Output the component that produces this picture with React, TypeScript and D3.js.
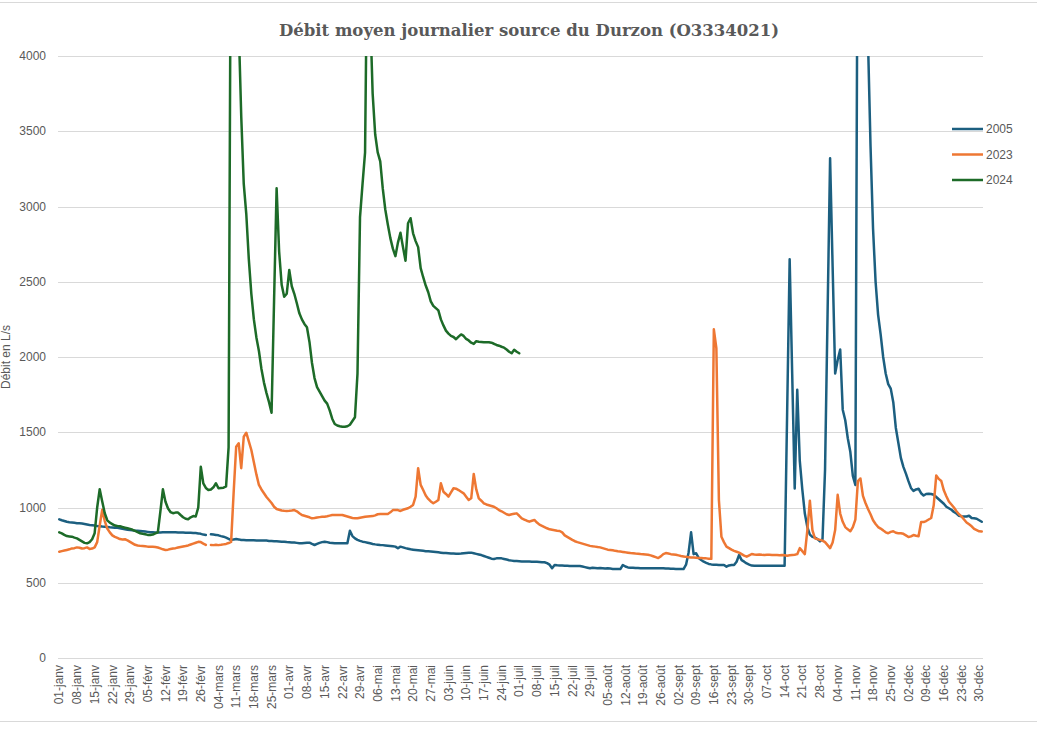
import React from 'react';
import * as d3 from 'd3';

// ---------- categories & ticks ----------
const MONTHS = ['janv', 'févr', 'mars', 'avr', 'mai', 'juin', 'juil', 'août', 'sept', 'oct', 'nov', 'déc'];
const MONTH_DAYS = [31, 29, 31, 30, 31, 30, 31, 31, 30, 31, 30, 31];
const CATEGORIES: string[] = MONTHS.flatMap((m, i) =>
  d3.range(1, MONTH_DAYS[i] + 1).map((d) => `${String(d).padStart(2, '0')}-${m}`)
);
const TICK_STEP = 7;
const Y_TICKS = [0, 500, 1000, 1500, 2000, 2500, 3000, 3500, 4000];

const TITLE = 'Débit moyen journalier source du Durzon (O3334021)';
const Y_TITLE = 'Débit en L/s';
const SERIES_NAMES = ['2005', '2023', '2024'];
const SERIES_COLORS = ['#1c5f80', '#ee7733', '#1d6b28'];

// ---------- data (L/s), one value per day, null = missing ----------
const Q2005: (number | null)[] = [
  921, 915, 910, 905, 902, 900, 898, 896, 895, 893,
  890, 887, 884, 882, 880, 877, 875, 873, 872, 870,
  868, 867, 866, 865, 862, 858, 855, 852, 850, 848,
  846, 845, 844, 842, 840, 838, 836, 835, 834, 834,
  834, 835, 835, 835, 836, 835, 835, 834, 834, 834,
  833, 833, 832, 831, 830, 828, 825, 820, 817, null,
  822, 820, 818, 815, 810, 806, 800, 792, 784, 788,
  791, 788, 784, 784, 783, 783, 782, 782, 781, 781,
  780, 780, 780, 778, 777, 776, 775, 774, 773, 772,
  770, 769, 768, 767, 765, 763, 762, 764, 766, 766,
  758, 751, 758, 765, 770, 773, 770, 766, 764, 762,
  762, 762, 762, 762, 762, 846, 810, 795, 785, 778,
  773, 770, 766, 762, 758, 755, 753, 751, 750, 748,
  746, 744, 742, 740, 729, 740, 735, 730, 726, 722,
  720, 718, 716, 714, 712, 710, 709, 708, 706, 704,
  702, 700, 698, 697, 696, 695, 694, 693, 693, 694,
  696, 698, 700, 700, 696, 692, 688, 684, 678, 672,
  666, 660, 658, 662, 663, 662, 658, 654, 650, 647,
  644, 644, 643, 642, 642, 641, 641, 640, 640, 639, 638,
  637, 636, 630, 620, 596, 618, 616, 615, 614, 613,
  613, 612, 612, 611, 611, 611, 608, 604, 600, 596,
  600, 598, 596, 598, 596, 594, 596, 594, 592, 592,
  591, 591, 618, 608, 602, 600, 600, 598, 598, 597,
  597, 596, 596, 597, 596, 596, 596, 596, 596, 594,
  594, 593, 593, 592, 592, 591, 591, 620, 700, 835,
  690, 696, 665, 651, 640, 632, 625, 622, 620, 619,
  618, 618, 618, 607, 615, 618, 618, 640, 684, 650,
  640, 628, 620, 614, 613, 613, 613, 613, 613, 613,
  613, 613, 613, 613, 613, 613, 613, 1630, 2650, 1890,
  1126, 1782, 1312, 1120, 960, 870, 820, 805, 800, 790,
  775, 790, 1250, 2285, 3320, 2600, 1890, 1980, 2050, 1650,
  1580, 1460, 1370, 1210, 1150, 5500, 7000, 6000, 4800, 4100,
  3400, 2850, 2500, 2280, 2150, 2000, 1890, 1820, 1790, 1700,
  1530, 1430, 1330, 1270, 1225, 1175, 1130, 1110, 1120, 1125,
  1095, 1080, 1090, 1092, 1090, 1085, 1070, 1055, 1040, 1025,
  1005, 995, 985, 970, 960, 945, 942, 940, 940, 945,
  930, 928, 925, 915, 905,
];

const Q2023: (number | null)[] = [
  706, 710, 714, 718, 722, 728, 730, 735, 733, 728,
  730, 735, 725, 727, 735, 770, 880, 985, 910, 860,
  835, 815, 805, 798, 790, 788, 789, 782, 772, 762,
  752, 748, 745, 744, 742, 740, 740, 739, 738, 734,
  728, 722, 718, 720, 724, 728, 730, 734, 738, 741,
  744, 748, 754, 760, 766, 772, 770, 760, 751, null,
  751, 750, 752, 750, 752, 755, 758, 764, 772, 1100,
  1404, 1427, 1261, 1470, 1497, 1440, 1382, 1300, 1220, 1150,
  1120, 1095, 1070, 1050, 1030, 1005, 990, 985, 980, 978,
  977, 978, 980, 983, 975, 962, 950, 945, 940, 935,
  928, 930, 933, 936, 938, 939, 942, 946, 950, 950,
  950, 950, 950, 945, 940, 935, 930, 928, 928, 932,
  935, 938, 940, 942, 943, 948, 955, 956, 956, 957,
  957, 968, 983, 983, 983, 977, 985, 990, 995, 1005,
  1017, 1072, 1261, 1150, 1116, 1080, 1057, 1040, 1028, 1038,
  1050, 1161, 1105, 1090, 1072, 1100, 1128, 1125, 1116, 1105,
  1094, 1072, 1050, 1061, 1223, 1120, 1061, 1045, 1028, 1020,
  1015, 1010, 1005, 995, 983, 975, 965, 955, 950, 955,
  958, 961, 945, 928, 920, 912, 906, 912, 917, 900, 886,
  878, 870, 862, 855, 852, 849, 846, 844, 835, 815,
  805, 795, 785, 776, 770, 765, 760, 755, 750, 745,
  742, 740, 737, 735, 730, 725, 720, 718, 716, 712,
  709, 707, 705, 702, 700, 697, 696, 694, 693, 691,
  690, 688, 686, 682, 676, 670, 664, 675, 690, 697,
  694, 690, 688, 686, 682, 678, 675, 672, 670, 668,
  667, 666, 665, 664, 663, 662, 660, 659, 2184, 2058,
  1050, 806, 770, 740, 730, 720, 712, 706, 700, 690,
  680, 673, 682, 691, 688, 686, 688, 686, 685, 686,
  686, 685, 684, 684, 683, 684, 682, 680, 682, 684,
  686, 690, 730, 710, 690, 850, 1045, 850, 795, 790,
  785, 780, 770, 750, 730, 767, 850, 1084, 960, 905,
  870, 855, 842, 870, 920, 1176, 1193, 1077, 1030, 990,
  955, 915, 890, 870, 860, 848, 835, 829, 838, 842,
  832, 829, 829, 825, 815, 804, 808, 817, 812, 809,
  903, 903, 910, 920, 930, 1015, 1213, 1190, 1176, 1114,
  1075, 1040, 1020, 1000, 975, 955, 941, 920, 900, 888,
  875, 858, 850, 842, 840,
];

const Q2024: (number | null)[] = [
  835, 828, 818, 810, 808, 806, 800, 795, 785, 775,
  765, 762, 770, 789, 829, 1000, 1121, 1040, 962, 915,
  899, 890, 880, 877, 875, 870, 866, 862, 858, 852,
  844, 836, 829, 825, 822, 818, 817, 820, 828, 835,
  972, 1121, 1040, 995, 970, 962, 966, 966, 950, 935,
  925, 922, 935, 943, 940, 1000, 1271, 1160, 1130, 1116,
  1120, 1134, 1161, 1128, 1130, 1132, 1140, 1400, 5500, 7000,
  6000, 4200, 3600, 3150, 2950, 2650, 2420, 2250, 2130, 2040,
  1920, 1830, 1760, 1700, 1630, 2380, 3121, 2700, 2480, 2400,
  2420, 2578, 2470, 2420, 2357, 2290, 2250, 2220, 2198, 2100,
  1960, 1860, 1800, 1770, 1740, 1710, 1690, 1645, 1590, 1555,
  1545, 1540, 1537, 1537, 1540, 1550, 1575, 1600, 1890, 2930,
  3150, 3360, 5000, 4300, 3750, 3480, 3360, 3300, 3120, 2980,
  2880, 2790, 2720, 2670, 2760, 2826, 2730, 2640, 2889, 2922,
  2822, 2770, 2730, 2590, 2530, 2475, 2430, 2370, 2340, 2325,
  2310, 2250, 2210, 2175, 2155, 2140, 2133, 2118, 2135, 2150,
  2140, 2120, 2110, 2095, 2087, 2105, 2102, 2100, 2098, 2098,
  2098, 2095, 2088, 2080, 2075, 2068, 2062, 2050, 2035, 2025,
  2048, 2035, 2025,
];

const SERIES = [Q2005, Q2023, Q2024];

// ---------- layout ----------
const W = 1037;
const H = 736;
const PLOT = { left: 58, right: 983, top: 56, bottom: 658 };
const FONT = '"Liberation Sans", Arial, sans-serif';
const TEXT_COLOR = '#595959';
const GRID_COLOR = '#d9d9d9';

export default function App() {
  const x = d3.scaleBand<string>().domain(CATEGORIES).range([PLOT.left, PLOT.right]).padding(0);
  const bw = x.bandwidth();
  const cx = (i: number) => (x(CATEGORIES[i]) as number) + bw / 2;
  const y = d3.scaleLinear().domain([0, 4000]).range([PLOT.bottom, PLOT.top]);

  const line = d3
    .line<number | null>()
    .defined((d) => d != null)
    .x((_, i) => cx(i))
    .y((d) => y(d as number));

  const tickIdx = d3.range(0, CATEGORIES.length, TICK_STEP);

  return (
    <svg
      width={W}
      height={H}
      viewBox={`0 0 ${W} ${H}`}
      style={{ position: 'absolute', left: 0, top: 0, background: '#fff' }}
    >
      <defs>
        <clipPath id="plotClip">
          <rect x={PLOT.left - 3} y={PLOT.top} width={PLOT.right - PLOT.left + 6} height={PLOT.bottom - PLOT.top + 4} />
        </clipPath>
      </defs>
      <rect x={0} y={0} width={W} height={H} fill="#fff" />
      <line x1={0} x2={W} y1={2.5} y2={2.5} stroke={GRID_COLOR} strokeWidth={1} />
      <line x1={0} x2={W} y1={721.5} y2={721.5} stroke={GRID_COLOR} strokeWidth={1} />

      {/* title */}
      <text
        x={529}
        y={36}
        textAnchor="middle"
        fontFamily='"DejaVu Serif", serif'
        fontWeight="bold"
        fontSize={16.5}
        fill={TEXT_COLOR}
      >
        {TITLE}
      </text>

      {/* grid + y labels */}
      {Y_TICKS.map((t) => (
        <g key={t}>
          <line
            x1={PLOT.left}
            x2={PLOT.right}
            y1={Math.round(y(t)) + 0.5}
            y2={Math.round(y(t)) + 0.5}
            stroke={GRID_COLOR}
            strokeWidth={1}
          />
          <text
            x={46}
            y={y(t)}
            dy="0.35em"
            textAnchor="end"
            fontFamily={FONT}
            fontSize={12}
            fill={TEXT_COLOR}
          >
            {t}
          </text>
        </g>
      ))}

      {/* y title */}
      <text
        transform={`translate(6, ${357}) rotate(-90)`}
        textAnchor="middle"
        dy="0.35em"
        fontFamily={FONT}
        fontSize={12}
        fill={TEXT_COLOR}
      >
        {Y_TITLE}
      </text>

      {/* x labels */}
      {tickIdx.map((i) => (
        <text
          key={i}
          transform={`translate(${cx(i)}, 665) rotate(-90)`}
          textAnchor="end"
          dy="0.35em"
          fontFamily={FONT}
          fontSize={12}
          fill={TEXT_COLOR}
        >
          {CATEGORIES[i]}
        </text>
      ))}

      {/* series */}
      <g clipPath="url(#plotClip)">
        {SERIES.map((s, k) => (
          <path
            key={SERIES_NAMES[k]}
            d={line(s) || ''}
            fill="none"
            stroke={SERIES_COLORS[k]}
            strokeWidth={2.5}
            strokeLinejoin="round"
            strokeLinecap="round"
          />
        ))}
      </g>

      {/* legend */}
      {SERIES_NAMES.map((n, k) => {
        const ly = 129 + k * 25.5;
        return (
          <g key={n}>
            <line x1={952} x2={983} y1={ly} y2={ly} stroke={SERIES_COLORS[k]} strokeWidth={2.5} />
            <text x={986} y={ly} dy="0.35em" fontFamily={FONT} fontSize={12} fill={TEXT_COLOR}>
              {n}
            </text>
          </g>
        );
      })}
    </svg>
  );
}
